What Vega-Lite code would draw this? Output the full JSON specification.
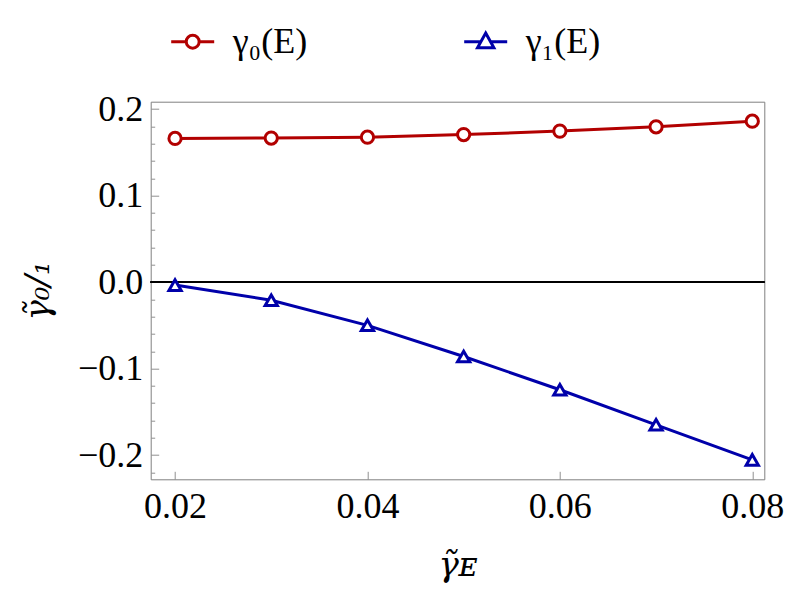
{
  "$schema": "https://vega.github.io/schema/vega-lite/v6.json",
  "width": 613.6,
  "height": 377.6,
  "autosize": {"type": "none"},
  "padding": {"left": 150.7, "top": 101.7, "right": 24.7, "bottom": 118.7},
  "background": "white",
  "config": {
    "font": "Liberation Serif",
    "view": {"stroke": "#808080", "strokeWidth": 1},
    "axis": {"domain": false, "grid": false, "tickColor": "#909090", "tickWidth": 1, "labelColor": "black", "labelFont": "Liberation Serif", "labelFontSize": 36, "titleFont": "DejaVu Serif", "titleFontStyle": "italic", "titleFontWeight": "normal", "titleColor": "black", "labelOverlap": false, "labelBound": false, "labelFlush": false},
    "legend": {"labelFont": "Liberation Serif"}
  },
  "data": {
    "values": [
      {"x": 0.02, "y": 0.166, "s": "γ₀(E)"},
      {"x": 0.03, "y": 0.1665, "s": "γ₀(E)"},
      {"x": 0.04, "y": 0.1675, "s": "γ₀(E)"},
      {"x": 0.05, "y": 0.1705, "s": "γ₀(E)"},
      {"x": 0.06, "y": 0.1745, "s": "γ₀(E)"},
      {"x": 0.07, "y": 0.1795, "s": "γ₀(E)"},
      {"x": 0.08, "y": 0.186, "s": "γ₀(E)"},
      {"x": 0.02, "y": -0.0035, "s": "γ₁(E)"},
      {"x": 0.03, "y": -0.021, "s": "γ₁(E)"},
      {"x": 0.04, "y": -0.05, "s": "γ₁(E)"},
      {"x": 0.05, "y": -0.086, "s": "γ₁(E)"},
      {"x": 0.06, "y": -0.1245, "s": "γ₁(E)"},
      {"x": 0.07, "y": -0.165, "s": "γ₁(E)"},
      {"x": 0.08, "y": -0.2055, "s": "γ₁(E)"}
    ]
  },
  "encoding": {
    "x": {"field": "x", "type": "quantitative", "scale": {"domain": [0.01747, 0.08125], "nice": false, "zero": false},
      "axis": {"values": [0.02, 0.04, 0.06, 0.08], "format": ".2f", "tickSize": -8, "labelPadding": 18, "title": "γ̃ᴇ", "titleFontSize": 34, "titlePadding": 24}},
    "y": {"field": "y", "type": "quantitative", "scale": {"domain": [-0.228, 0.2085], "nice": false, "zero": false},
      "axis": {"values": [-0.22, -0.2, -0.18, -0.16, -0.14, -0.12, -0.1, -0.08, -0.06, -0.04, -0.02, 0, 0.02, 0.04, 0.06, 0.08, 0.1, 0.12, 0.14, 0.16, 0.18, 0.2],
        "labelExpr": "abs(datum.value*10 - round(datum.value*10)) < 0.001 ? format(datum.value, '.1f') : ''",
        "tickSize": {"condition": {"test": "abs(datum.value*10 - round(datum.value*10)) < 0.001", "value": -8}, "value": -4},
        "labelPadding": 16, "title": "γ̃₀/₁", "titleFontSize": 34, "titlePadding": 22}}
  },
  "layer": [
    {"mark": {"type": "rule", "color": "black", "strokeWidth": 1}, "encoding": {"y": {"datum": 0}, "x": {"value": 0}, "x2": {"value": 613.6}}},
    {"mark": {"type": "line", "strokeWidth": 3},
      "encoding": {"color": {"field": "s", "type": "nominal", "scale": {"domain": ["γ₀(E)", "γ₁(E)"], "range": ["#B20000", "#0000AA"]},
          "legend": {"orient": "none", "legendX": 19, "legendY": -83, "direction": "horizontal", "title": null, "padding": 0,
            "columnPadding": 150, "symbolSize": 1849, "labelOffset": 17, "labelFontSize": 36, "labelFont": "Liberation Serif", "labelColor": "black",
            "symbolStrokeWidth": 3, "symbolFillColor": "white", "symbolOpacity": 1,
            "encode": {"symbols": {"update": {"fill": {"value": "white"}, "strokeWidth": {"value": 3},
              "shape": {"signal": "datum.value == 'γ₀(E)' ? 'M-1,0H-0.3M0.3,0H1M-0.3,0A0.3,0.3 0 1,0 0.3,0A0.3,0.3 0 1,0 -0.3,0Z' : 'M-1,0H-0.22M0.22,0H1M0,-0.4L0.38,0.28L-0.38,0.28Z'"}}}}}}}},
    {"transform": [{"filter": "datum.s == 'γ₀(E)'"}],
      "mark": {"type": "point", "shape": "circle", "filled": false, "fill": "white", "strokeWidth": 3, "size": 150, "opacity": 1},
      "encoding": {"color": {"field": "s", "type": "nominal", "scale": {"domain": ["γ₀(E)", "γ₁(E)"], "range": ["#B20000", "#0000AA"]}}}},
    {"transform": [{"filter": "datum.s == 'γ₁(E)'"}],
      "mark": {"type": "point", "shape": "triangle-up", "filled": false, "fill": "white", "strokeWidth": 3, "size": 150, "opacity": 1},
      "encoding": {"color": {"field": "s", "type": "nominal", "scale": {"domain": ["γ₀(E)", "γ₁(E)"], "range": ["#B20000", "#0000AA"]}}}}
  ]
}
